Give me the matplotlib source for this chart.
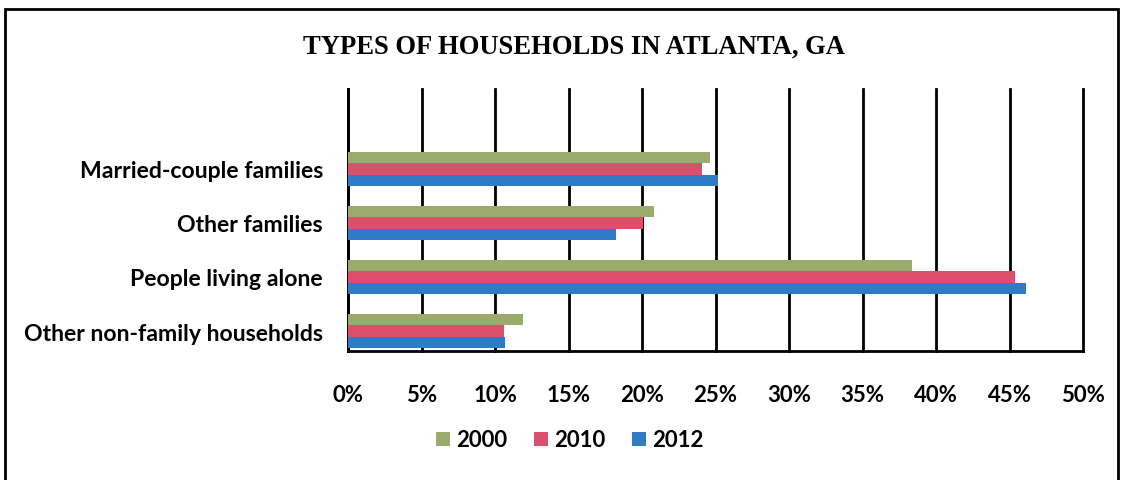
import matplotlib
matplotlib.use("Agg")
import matplotlib.pyplot as plt
from matplotlib.patches import Rectangle
import numpy as np

categories = ["Married-couple families", "Other families", "People living alone", "Other non-family households"]
years = ["2000", "2010", "2012"]
v2000 = [24.6, 20.8, 38.4, 11.9]
v2010 = [24.1, 20.1, 45.4, 10.6]
v2012 = [25.2, 18.2, 46.1, 10.7]
xticks = [0, 5, 10, 15, 20, 25, 30, 35, 40, 45, 50]

colors = ["#9bab6e", "#dc4f6c", "#2f7bc6"]
FONT = "Lato"

fig = plt.figure(figsize=(11.23, 4.81), dpi=100)
ax = fig.add_axes([348/1123, 1-352/481, (1083-348)/1123, (352-90)/481])

n = len(categories)
ypos = np.arange(n)[::-1]  # married at top
h = 0.215
for i, (vals, c, lab) in enumerate(zip([v2000, v2010, v2012], colors, years)):
    ax.barh(ypos + (1 - i) * h, vals, height=h, color=c, label=lab, zorder=3)

ax.set_xlim(0, 50)
ax.set_ylim(-0.37, 4.48)
ax.set_xticks(xticks)
ax.set_xticklabels([f"{t}%" for t in xticks], fontsize=16, fontweight="bold", family=FONT)
ax.set_yticks(ypos)
ax.set_yticklabels(categories, fontsize=16.6, fontweight="bold", family=FONT)
ax.tick_params(axis="x", length=0, pad=24)
ax.tick_params(axis="y", length=0, pad=18)
ax.grid(axis="x", color="black", linewidth=2, zorder=1)
for gl in ax.get_xgridlines():
    gl.set_clip_on(False)
for s in ["top", "right"]:
    ax.spines[s].set_visible(False)
ax.spines["left"].set_linewidth(2)
ax.spines["bottom"].set_linewidth(2)

fig.text(574/1123, 1-47/481, "TYPES OF HOUSEHOLDS IN ATLANTA, GA", ha="center", va="center",
         fontsize=19.2, fontweight="bold", family="Liberation Serif")

leg = fig.legend(loc="center", bbox_to_anchor=(570/1123, 1-441/481), ncol=3, frameon=False,
                 prop={"family": FONT, "weight": "bold", "size": 16},
                 handlelength=0.6, handleheight=0.6, handletextpad=0.3, columnspacing=1.2)

fig.patches.append(Rectangle((5/1123, -0.05), 1113/1123, 1.05 - 10/481, transform=fig.transFigure,
                             fill=False, edgecolor="black", linewidth=2))

fig.savefig("out.png", dpi=100)
